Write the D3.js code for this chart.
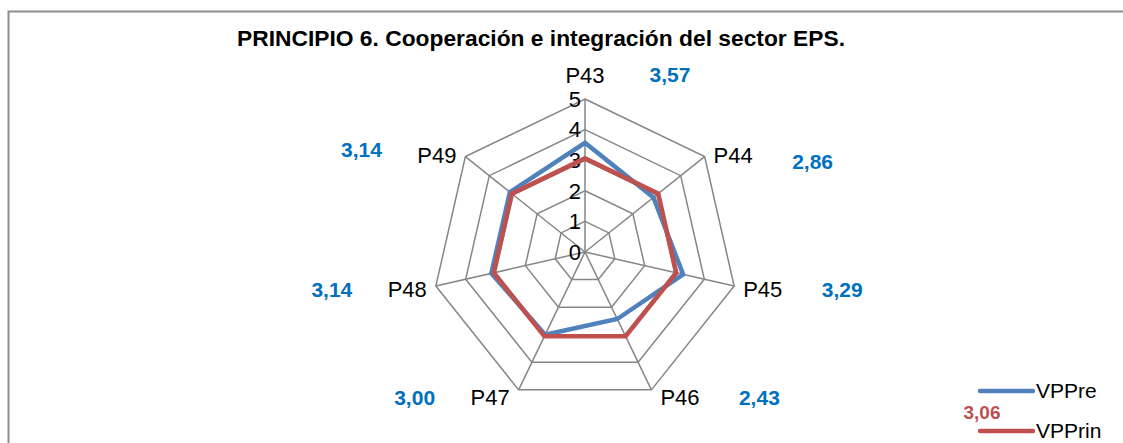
<!DOCTYPE html>
<html>
<head>
<meta charset="utf-8">
<script src="https://cdn.jsdelivr.net/npm/d3@7"></script>
<style>
  body { margin: 0; background: #fff; }
  svg { display: block; }
  text { font-family: "Liberation Sans Narrow", "Arial Narrow", "Liberation Sans", sans-serif; }
</style>
</head>
<body>
<div id="chart"></div>
<script>
// Chart data
const axes = ["P43", "P44", "P45", "P46", "P47", "P48", "P49"];
const vpPre = [3.57, 2.86, 3.29, 2.43, 3.00, 3.14, 3.14];
const vpPrin = [3.06, 3.06, 3.06, 3.06, 3.06, 3.06, 3.06];
const ticks = [0, 1, 2, 3, 4, 5];
const seriesNames = ["VPPre", "VPPrin"];
const prinLabel = "3,06";

const width = 1123, height = 443;
const cx = 585, cy = 252, radius = 153;

const svg = d3.select("#chart")
    .append("svg")
    .attr("width", width)
    .attr("height", height);

// Outer frame (runs off the right and bottom edge)
svg.append("rect")
    .attr("x", 8.5)
    .attr("y", 11.5)
    .attr("width", width)
    .attr("height", height)
    .attr("fill", "none")
    .attr("stroke", "#8c8c8c")
    .attr("stroke-width", 2);

// Title
svg.append("text")
    .attr("x", 541)
    .attr("y", 46)
    .attr("text-anchor", "middle")
    .attr("font-weight", "bold")
    .attr("font-size", 22.5)
    .attr("textLength", 608)
    .attr("lengthAdjust", "spacingAndGlyphs")
    .attr("fill", "#000")
    .text("PRINCIPIO 6. Cooperación e integración del sector EPS.");

// Scales
const r = d3.scaleLinear().domain([0, 5]).range([0, radius]);
const angle = d3.scalePoint().domain(axes).range([0, 2 * Math.PI * (axes.length - 1) / axes.length]);

const g = svg.append("g").attr("transform", `translate(${cx},${cy})`);

const px = (a, v) => r(v) * Math.sin(angle(a));
const py = (a, v) => -r(v) * Math.cos(angle(a));

// Grid rings
ticks.filter(t => t > 0).forEach(t => {
    g.append("polygon")
        .attr("points", axes.map(a => `${px(a, t)},${py(a, t)}`).join(" "))
        .attr("fill", "none")
        .attr("stroke", "#868686")
        .attr("stroke-width", 1.5);
});

// Spokes
axes.forEach(a => {
    g.append("line")
        .attr("x1", 0).attr("y1", 0)
        .attr("x2", px(a, 5)).attr("y2", py(a, 5))
        .attr("stroke", "#868686")
        .attr("stroke-width", 1.5);
});

// Tick labels along the first axis
ticks.forEach(t => {
    g.append("text")
        .attr("x", -4)
        .attr("y", -r(t))
        .attr("dy", "0.35em")
        .attr("text-anchor", "end")
        .attr("font-size", 22)
        .text(t);
});

// Series lines
const line = d3.lineRadial()
    .angle((d, i) => angle(axes[i]))
    .radius(d => r(d))
    .curve(d3.curveLinearClosed);

g.append("path")
    .datum(vpPre)
    .attr("d", line)
    .attr("fill", "none")
    .attr("stroke", "#4F81BD")
    .attr("stroke-width", 4.5)
    .attr("stroke-linejoin", "miter");

g.append("path")
    .datum(vpPrin)
    .attr("d", line)
    .attr("fill", "none")
    .attr("stroke", "#C0504D")
    .attr("stroke-width", 4.5)
    .attr("stroke-linejoin", "miter");

// Axis labels and value labels
const fmt = v => d3.format(".2f")(v).replace(".", ",");
axes.forEach((a, i) => {
    const x = px(a, 5), y = py(a, 5);
    const s = Math.sin(angle(a)), c = Math.cos(angle(a));
    let lx, ly, anchor, vx, vy;
    if (Math.abs(s) < 0.01) {
        lx = x; ly = y - 24; anchor = "middle"; vx = lx + 85; vy = ly;
    } else if (s > 0) {
        lx = x + 9; ly = y + 2 - 6 * c; anchor = "start"; vx = lx + 99;
        vy = c > 0.3 ? ly + 7 : ly;
    } else {
        lx = x - 9; ly = y + 2 - 6 * c; anchor = "end"; vx = lx - 95;
        vy = c > 0.3 ? ly - 5 : ly;
    }
    g.append("text")
        .attr("x", lx)
        .attr("y", ly)
        .attr("dy", "0.35em")
        .attr("text-anchor", anchor)
        .attr("font-size", 22)
        .text(a);
    g.append("text")
        .attr("x", vx)
        .attr("y", vy)
        .attr("dy", "0.35em")
        .attr("text-anchor", "middle")
        .attr("font-weight", "bold")
        .attr("font-size", 21)
        .attr("fill", "#0070C0")
        .text(fmt(vpPre[i]));
});

// Legend
const legendColors = ["#4F81BD", "#C0504D"];
const legend = svg.append("g").attr("transform", "translate(980,391)");
seriesNames.forEach((name, i) => {
    legend.append("line")
        .attr("x1", 0).attr("x2", 53)
        .attr("y1", i * 40).attr("y2", i * 40)
        .attr("stroke", legendColors[i])
        .attr("stroke-width", 4.5)
        .attr("stroke-linecap", "round");
    legend.append("text")
        .attr("x", 56)
        .attr("y", i * 40)
        .attr("dy", "0.35em")
        .attr("font-size", 21)
        .text(name);
});
legend.append("text")
    .attr("x", 2)
    .attr("y", 21)
    .attr("dy", "0.35em")
    .attr("text-anchor", "middle")
    .attr("font-weight", "bold")
    .attr("font-size", 19)
    .attr("fill", "#C0504D")
    .text(prinLabel);
</script>
</body>
</html>
